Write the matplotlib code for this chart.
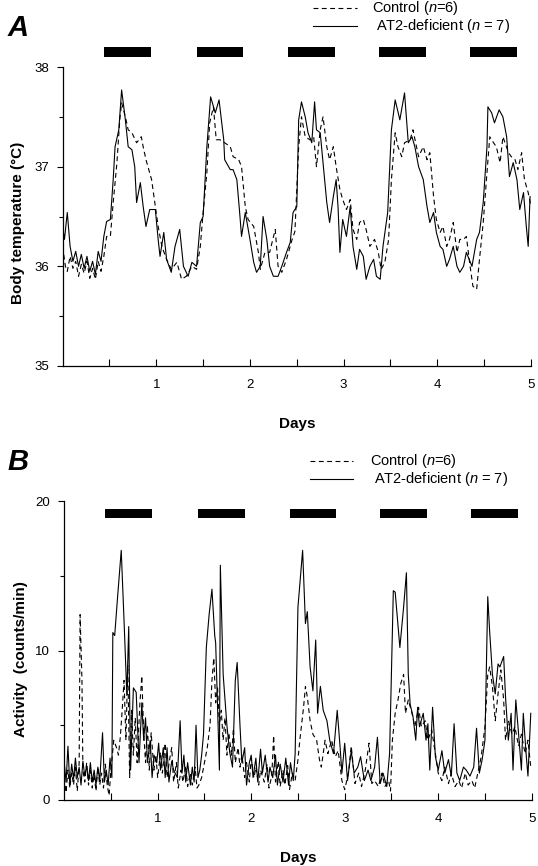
import numpy as np
import matplotlib
matplotlib.use("Agg")
import matplotlib.pyplot as plt
from matplotlib.lines import Line2D

plt.rcParams["font.family"] = ["Liberation Sans", "DejaVu Sans"]
plt.rcParams["mathtext.fontset"] = "custom"
plt.rcParams["mathtext.it"] = "Liberation Sans:italic"
plt.rcParams["mathtext.rm"] = "Liberation Sans"
plt.rcParams["lines.scale_dashes"] = False

# =========================
# data (days, value)
# =========================
temp_at2 = [
    (0.00, 36.40), (0.02, 36.27), (0.05, 36.54), (0.08, 36.20), (0.11, 36.05), (0.14, 36.15),
    (0.17, 36.00), (0.20, 36.12), (0.23, 35.98), (0.26, 36.10), (0.29, 35.95), (0.32, 36.05),
    (0.35, 35.92), (0.38, 36.15), (0.41, 36.05), (0.44, 36.30), (0.47, 36.45), (0.51, 36.47),
    (0.54, 36.87), (0.56, 37.20), (0.60, 37.37), (0.63, 37.77), (0.67, 37.47), (0.70, 37.20),
    (0.74, 37.17), (0.77, 37.00), (0.79, 36.64), (0.83, 36.84), (0.86, 36.60), (0.89, 36.40),
    (0.93, 36.57), (0.99, 36.57), (1.02, 36.27), (1.04, 36.10), (1.08, 36.34), (1.11, 36.07),
    (1.16, 35.94), (1.20, 36.20), (1.25, 36.37), (1.29, 36.00), (1.34, 35.90), (1.38, 36.04),
    (1.43, 36.00), (1.47, 36.44), (1.50, 36.50), (1.54, 37.20), (1.58, 37.70), (1.63, 37.54),
    (1.67, 37.67), (1.72, 37.27), (1.73, 37.07), (1.79, 36.97), (1.82, 36.97), (1.86, 36.87),
    (1.89, 36.54), (1.91, 36.30), (1.95, 36.54), (2.00, 36.27), (2.04, 36.04), (2.07, 35.94),
    (2.11, 36.00), (2.14, 36.50), (2.18, 36.27), (2.21, 36.00), (2.25, 35.90), (2.30, 35.90),
    (2.34, 36.00), (2.39, 36.14), (2.43, 36.24), (2.46, 36.54), (2.50, 36.60), (2.52, 37.47),
    (2.55, 37.65), (2.59, 37.50), (2.62, 37.34), (2.66, 37.24), (2.69, 37.65), (2.71, 37.37),
    (2.75, 37.34), (2.78, 37.04), (2.82, 36.64), (2.85, 36.44), (2.89, 36.70), (2.92, 36.87),
    (2.94, 36.60), (2.96, 36.14), (2.99, 36.47), (3.03, 36.30), (3.07, 36.60), (3.10, 36.20),
    (3.14, 35.97), (3.17, 36.17), (3.21, 36.10), (3.24, 35.87), (3.28, 36.00), (3.32, 36.07),
    (3.35, 35.90), (3.39, 35.87), (3.42, 36.20), (3.47, 36.54), (3.51, 37.37), (3.55, 37.67),
    (3.60, 37.47), (3.65, 37.74), (3.69, 37.24), (3.73, 37.30), (3.76, 37.20), (3.80, 37.00),
    (3.85, 36.87), (3.89, 36.60), (3.92, 36.44), (3.96, 36.54), (3.99, 36.34), (4.03, 36.20),
    (4.06, 36.17), (4.10, 36.00), (4.13, 36.07), (4.17, 36.20), (4.21, 36.00), (4.24, 35.94),
    (4.28, 36.00), (4.31, 36.14), (4.37, 36.00), (4.42, 36.27), (4.45, 36.34), (4.49, 36.64),
    (4.53, 37.20), (4.54, 37.60), (4.58, 37.54), (4.61, 37.44), (4.66, 37.57), (4.70, 37.50),
    (4.74, 37.30), (4.77, 36.90), (4.81, 37.04), (4.85, 36.87), (4.88, 36.57), (4.92, 36.74),
    (4.95, 36.40), (4.97, 36.20), (4.99, 36.70),
]

temp_ctrl = [
    (0.00, 36.20), (0.03, 36.00), (0.05, 35.95), (0.08, 36.10), (0.11, 35.98), (0.14, 36.05),
    (0.17, 35.90), (0.20, 36.02), (0.23, 35.93), (0.26, 36.05), (0.29, 35.88), (0.32, 35.98),
    (0.35, 35.87), (0.38, 36.05), (0.41, 35.95), (0.44, 36.10), (0.47, 36.30), (0.51, 36.30),
    (0.54, 36.64), (0.58, 37.04), (0.61, 37.47), (0.63, 37.64), (0.67, 37.50), (0.70, 37.37),
    (0.74, 37.34), (0.79, 37.24), (0.84, 37.30), (0.86, 37.20), (0.89, 37.07), (0.92, 36.97),
    (0.95, 36.87), (0.99, 36.60), (1.02, 36.40), (1.06, 36.20), (1.11, 36.07), (1.16, 35.97),
    (1.22, 36.04), (1.27, 35.87), (1.32, 35.90), (1.38, 36.00), (1.43, 35.97), (1.47, 36.20),
    (1.50, 36.54), (1.54, 36.94), (1.57, 37.44), (1.61, 37.60), (1.64, 37.27), (1.68, 37.27),
    (1.73, 37.24), (1.79, 37.20), (1.82, 37.10), (1.88, 37.07), (1.91, 37.00), (1.95, 36.60),
    (1.98, 36.47), (2.04, 36.40), (2.09, 36.14), (2.11, 35.97), (2.16, 36.14), (2.21, 36.14),
    (2.27, 36.37), (2.30, 36.00), (2.34, 35.94), (2.39, 36.07), (2.45, 36.27), (2.48, 36.35),
    (2.52, 37.20), (2.55, 37.50), (2.59, 37.30), (2.64, 37.27), (2.68, 37.30), (2.71, 37.00),
    (2.75, 37.37), (2.78, 37.50), (2.82, 37.20), (2.85, 37.07), (2.89, 37.20), (2.92, 37.00),
    (2.96, 36.77), (2.99, 36.67), (3.03, 36.57), (3.07, 36.67), (3.10, 36.37), (3.14, 36.27),
    (3.17, 36.44), (3.21, 36.47), (3.24, 36.37), (3.28, 36.20), (3.33, 36.27), (3.37, 36.14),
    (3.40, 35.97), (3.44, 36.04), (3.48, 36.27), (3.51, 36.87), (3.55, 37.34), (3.58, 37.20),
    (3.62, 37.10), (3.65, 37.24), (3.71, 37.27), (3.74, 37.37), (3.80, 37.10), (3.85, 37.20),
    (3.89, 37.07), (3.92, 37.14), (3.96, 36.70), (3.99, 36.47), (4.03, 36.34), (4.06, 36.40),
    (4.10, 36.20), (4.13, 36.27), (4.17, 36.44), (4.21, 36.14), (4.24, 36.27), (4.28, 36.27),
    (4.31, 36.30), (4.35, 36.00), (4.38, 35.80), (4.42, 35.77), (4.45, 36.07), (4.49, 36.44),
    (4.53, 36.94), (4.56, 37.30), (4.60, 37.24), (4.63, 37.20), (4.67, 37.04), (4.70, 37.30),
    (4.76, 37.14), (4.79, 37.10), (4.83, 37.07), (4.86, 36.97), (4.90, 37.14), (4.93, 36.87),
    (4.97, 36.74), (5.00, 36.60),
]

act_at2 = [
    (0.00, 2.5), (0.02, 1.2), (0.04, 3.6), (0.06, 1.0), (0.08, 2.4), (0.10, 1.4), (0.12, 2.8),
    (0.14, 1.5), (0.16, 2.2), (0.18, 1.0), (0.20, 2.6), (0.22, 1.6), (0.24, 2.3), (0.26, 1.3),
    (0.28, 2.5), (0.30, 1.2), (0.32, 2.0), (0.34, 1.0), (0.36, 2.2), (0.38, 1.3), (0.41, 4.5),
    (0.43, 1.2), (0.45, 2.0), (0.47, 1.0), (0.49, 2.8), (0.51, 1.5), (0.52, 11.2), (0.54, 11.0),
    (0.57, 13.5), (0.61, 16.7), (0.64, 12.0), (0.67, 7.0), (0.69, 11.6), (0.71, 2.0), (0.74, 7.5),
    (0.77, 7.2), (0.80, 2.5), (0.83, 6.5), (0.85, 4.0), (0.87, 5.5), (0.89, 2.5), (0.92, 4.0),
    (0.94, 1.5), (0.96, 3.0), (0.99, 2.5), (1.01, 3.8), (1.03, 2.0), (1.06, 3.5), (1.08, 1.5),
    (1.10, 3.5), (1.12, 1.2), (1.15, 2.6), (1.17, 2.0), (1.21, 1.5), (1.24, 5.3), (1.26, 1.8),
    (1.28, 3.0), (1.30, 1.2), (1.32, 2.5), (1.35, 1.0), (1.37, 2.2), (1.39, 1.2), (1.41, 5.0),
    (1.43, 1.5), (1.45, 2.0), (1.47, 3.0), (1.49, 4.4), (1.52, 10.2), (1.55, 12.4), (1.58, 14.1),
    (1.61, 11.0), (1.62, 10.5), (1.66, 2.0), (1.67, 15.7), (1.70, 8.4), (1.74, 5.0), (1.77, 3.2),
    (1.80, 2.2), (1.83, 8.0), (1.85, 9.2), (1.88, 5.0), (1.90, 2.5), (1.93, 3.5), (1.95, 1.0),
    (1.98, 2.5), (2.00, 3.0), (2.02, 1.5), (2.05, 2.8), (2.07, 1.2), (2.10, 3.4), (2.12, 1.8),
    (2.15, 3.0), (2.18, 1.2), (2.20, 2.2), (2.23, 1.5), (2.26, 3.0), (2.28, 1.0), (2.31, 2.4),
    (2.34, 1.2), (2.37, 2.8), (2.40, 1.0), (2.42, 2.5), (2.45, 1.3), (2.47, 3.1), (2.50, 12.9),
    (2.55, 16.7), (2.58, 11.8), (2.60, 12.6), (2.63, 8.9), (2.66, 7.3), (2.69, 10.7), (2.71, 5.8),
    (2.74, 7.6), (2.77, 6.0), (2.81, 5.3), (2.84, 4.0), (2.88, 3.1), (2.92, 6.0), (2.95, 3.6),
    (2.97, 1.8), (3.00, 3.8), (3.03, 1.3), (3.07, 3.3), (3.10, 1.8), (3.14, 2.2), (3.17, 2.9),
    (3.21, 1.3), (3.25, 2.0), (3.28, 1.3), (3.32, 2.2), (3.35, 4.2), (3.38, 1.1), (3.41, 1.8),
    (3.45, 0.9), (3.48, 3.1), (3.52, 14.0), (3.54, 13.9), (3.59, 10.2), (3.63, 12.9), (3.66, 15.2),
    (3.68, 8.4), (3.70, 6.4), (3.73, 5.6), (3.76, 4.0), (3.78, 6.2), (3.80, 4.9), (3.84, 5.8),
    (3.87, 4.0), (3.89, 5.1), (3.91, 2.0), (3.94, 6.2), (3.97, 2.9), (4.00, 2.0), (4.04, 3.3),
    (4.07, 1.8), (4.11, 2.7), (4.14, 1.6), (4.17, 5.1), (4.20, 1.8), (4.23, 1.3), (4.27, 2.2),
    (4.30, 2.0), (4.34, 1.6), (4.38, 2.2), (4.41, 4.8), (4.44, 1.8), (4.47, 2.7), (4.50, 4.0),
    (4.53, 13.6), (4.55, 11.3), (4.58, 8.4), (4.61, 7.1), (4.64, 9.1), (4.66, 8.9), (4.70, 9.6),
    (4.72, 6.9), (4.75, 4.0), (4.78, 5.8), (4.80, 2.0), (4.83, 6.7), (4.86, 4.4), (4.89, 2.0),
    (4.91, 5.8), (4.94, 3.1), (4.96, 1.6), (4.99, 5.8),
]

act_ctrl = [
    (0.00, 1.5), (0.02, 0.5), (0.04, 2.0), (0.06, 0.8), (0.08, 1.8), (0.10, 1.0), (0.12, 2.2),
    (0.14, 0.6), (0.16, 2.5), (0.17, 12.4), (0.19, 8.0), (0.20, 2.0), (0.22, 1.2), (0.24, 2.5),
    (0.26, 1.0), (0.28, 2.0), (0.30, 0.8), (0.32, 1.7), (0.34, 0.6), (0.36, 2.2), (0.38, 1.0),
    (0.40, 1.8), (0.42, 0.8), (0.44, 2.4), (0.46, 1.0), (0.48, 0.3), (0.50, 2.0), (0.53, 4.0),
    (0.56, 3.5), (0.58, 3.0), (0.60, 4.2), (0.62, 6.0), (0.64, 8.0), (0.66, 4.0), (0.68, 9.0),
    (0.70, 1.5), (0.72, 6.0), (0.74, 3.0), (0.76, 5.5), (0.78, 2.5), (0.81, 6.5), (0.83, 8.3),
    (0.85, 4.5), (0.87, 2.5), (0.89, 5.0), (0.91, 2.0), (0.93, 4.5), (0.96, 2.0), (0.98, 3.0),
    (1.00, 1.5), (1.03, 3.2), (1.05, 1.8), (1.08, 3.8), (1.10, 1.5), (1.13, 2.8), (1.15, 3.5),
    (1.17, 1.2), (1.20, 2.5), (1.22, 0.8), (1.25, 2.0), (1.27, 1.2), (1.30, 2.3), (1.32, 0.9),
    (1.35, 1.8), (1.37, 1.0), (1.40, 2.2), (1.42, 0.8), (1.44, 1.0), (1.47, 1.5), (1.50, 2.5),
    (1.53, 3.5), (1.56, 5.0), (1.58, 8.0), (1.60, 9.5), (1.62, 6.5), (1.64, 7.5), (1.66, 5.0),
    (1.68, 6.0), (1.70, 4.0), (1.72, 5.5), (1.74, 3.0), (1.76, 4.5), (1.79, 3.0), (1.81, 4.8),
    (1.83, 2.5), (1.86, 3.5), (1.88, 2.2), (1.90, 3.0), (1.93, 1.5), (1.95, 2.5), (1.98, 1.2),
    (2.00, 2.8), (2.03, 1.5), (2.05, 2.2), (2.08, 1.0), (2.10, 2.0), (2.14, 1.2), (2.17, 2.4),
    (2.19, 0.8), (2.22, 1.6), (2.24, 4.3), (2.26, 1.2), (2.29, 2.6), (2.31, 0.9), (2.34, 2.0),
    (2.36, 1.0), (2.39, 2.3), (2.41, 0.7), (2.44, 1.8), (2.47, 1.3), (2.50, 2.7), (2.52, 4.0),
    (2.56, 6.2), (2.58, 7.6), (2.60, 6.9), (2.63, 5.3), (2.66, 4.4), (2.70, 4.0), (2.73, 2.7),
    (2.75, 2.2), (2.79, 4.0), (2.82, 3.1), (2.86, 4.0), (2.90, 2.9), (2.93, 3.3), (2.97, 1.3),
    (3.00, 0.7), (3.04, 1.8), (3.07, 3.6), (3.11, 1.1), (3.15, 1.8), (3.18, 0.9), (3.22, 2.0),
    (3.26, 3.8), (3.29, 1.1), (3.32, 1.3), (3.36, 0.9), (3.40, 1.8), (3.43, 0.9), (3.47, 1.3),
    (3.49, 0.6), (3.51, 4.0), (3.54, 5.8), (3.57, 6.7), (3.60, 7.8), (3.63, 8.4), (3.65, 5.8),
    (3.68, 6.7), (3.72, 5.8), (3.75, 4.9), (3.79, 6.2), (3.82, 4.9), (3.86, 5.3), (3.89, 4.0),
    (3.93, 4.7), (3.97, 3.1), (4.00, 1.8), (4.04, 1.3), (4.07, 2.2), (4.11, 1.1), (4.14, 1.8),
    (4.18, 0.9), (4.22, 1.3), (4.25, 0.8), (4.29, 1.8), (4.32, 1.0), (4.36, 1.3), (4.39, 0.8),
    (4.43, 2.0), (4.46, 2.9), (4.50, 4.9), (4.53, 8.4), (4.55, 8.9), (4.58, 7.6), (4.61, 5.3),
    (4.64, 7.1), (4.67, 8.7), (4.70, 6.7), (4.72, 4.0), (4.75, 5.3), (4.79, 4.4), (4.82, 4.9),
    (4.86, 3.6), (4.89, 4.4), (4.93, 3.1), (4.96, 4.0), (4.99, 2.2),
]

# dark phases (days)
dark_start = [0.44, 1.43, 2.41, 3.38, 4.35]
dark_len = 0.5

day_ticks = [0.5, 1, 1.5, 2, 2.5, 3, 3.5, 4, 4.5, 5]
day_labels = ["", "1", "", "2", "", "3", "", "4", "", "5"]

DASH = (3.5, 2.5)
LW = 0.8

# =========================
# figure layout (pixel boxes)
# =========================
W, H = 538, 866
fig = plt.figure(figsize=(W / 100, H / 100), dpi=100)


def px_axes(left, top, right, bottom):
    return fig.add_axes([left / W, (H - bottom) / H, (right - left) / W, (bottom - top) / H])


ax_a = px_axes(62.6, 67, 531, 366)
ax_b = px_axes(64.2, 501, 531.7, 800)


def style_axis(ax, ylabel, ylim, yticks, yminor, ylab_x, ylab_y):
    for s in ["top", "right"]:
        ax.spines[s].set_visible(False)
    ax.spines["left"].set_linewidth(0.9)
    ax.spines["bottom"].set_linewidth(0.9)
    ax.set_xlim(0, 5)
    ax.set_ylim(*ylim)
    ax.set_xticks(day_ticks)
    ax.set_xticklabels(day_labels)
    ax.tick_params(axis="x", direction="in", length=5, width=0.8, pad=9, labelsize=9.5)
    ax.set_yticks(yticks)
    ax.set_yticks(yminor, minor=True)
    ax.tick_params(axis="y", which="major", direction="out", length=4, width=0.8, pad=6, labelsize=9.5)
    ax.tick_params(axis="y", which="minor", direction="out", length=3, width=0.8)
    ax.set_xlabel("Days", fontsize=11, fontweight="bold")
    ax.xaxis.set_label_coords(0.5, -0.172)
    ax.set_ylabel(ylabel, fontsize=11, fontweight="bold")
    ax.yaxis.set_label_coords(ylab_x, ylab_y)


def draw_bars(ax, y0, h):
    ax.broken_barh([(s, dark_len) for s in dark_start], (y0, h),
                   transform=ax.get_xaxis_transform(), facecolor="black",
                   edgecolor="none", clip_on=False)


def legend(x0, x1, xt, y_ctrl, y_at2):
    fig.add_artist(Line2D([x0 / W, x1 / W], [(H - y_ctrl) / H] * 2, color="black",
                          lw=LW, linestyle=(0, DASH)))
    fig.add_artist(Line2D([x0 / W, x1 / W], [(H - y_at2) / H] * 2, color="black", lw=LW))
    fig.text(xt / W, (H - y_ctrl) / H, "Control ($n$=6)", fontsize=10.5, va="center", ha="left")
    fig.text((xt + 4) / W, (H - y_at2) / H, "AT2-deficient ($n$ = 7)", fontsize=10.5,
             va="center", ha="left")


# ---- panel A
d, v = np.array(temp_ctrl).T
ax_a.plot(d, v, color="black", lw=LW, linestyle=(0, DASH))
d, v = np.array(temp_at2).T
ax_a.plot(d, v, color="black", lw=LW)
style_axis(ax_a, "Body temperature (\u00b0C)", (35, 38), [35, 36, 37, 38],
           [35.5, 36.5, 37.5], -0.08, 0.48)
draw_bars(ax_a, 1.035, 0.031)

# ---- panel B
d, v = np.array(act_ctrl).T
ax_b.plot(d, v, color="black", lw=LW, linestyle=(0, DASH))
d, v = np.array(act_at2).T
ax_b.plot(d, v, color="black", lw=LW)
style_axis(ax_b, "Activity  (counts/min)", (0, 20), [0, 10, 20], [5, 15], -0.077, 0.47)
draw_bars(ax_b, 0.943, 0.03)

# ---- legends and panel letters
legend(313, 357, 372, 8, 26)
legend(310, 353, 370, 461, 479)
fig.text(8 / W, (H - 28) / H, "A", fontsize=21, fontweight="bold", fontstyle="italic", va="center")
fig.text(7 / W, (H - 462) / H, "B", fontsize=21, fontweight="bold", fontstyle="italic", va="center")

fig.savefig("out.png", dpi=100)
